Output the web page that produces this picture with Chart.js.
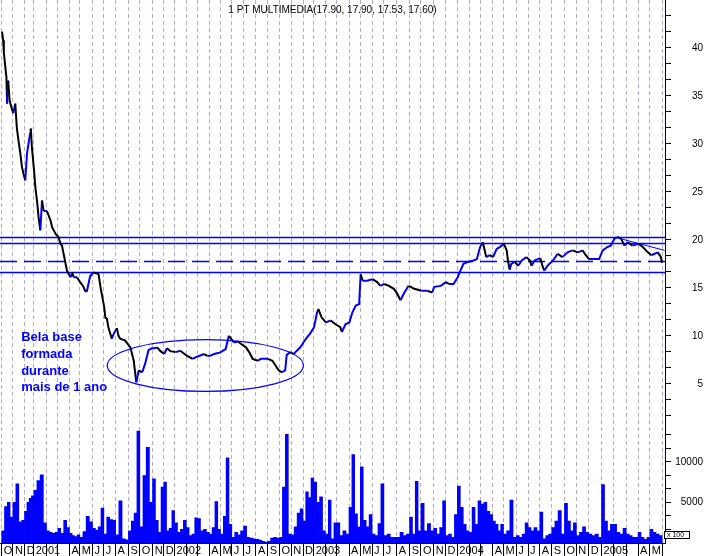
<!DOCTYPE html>
<html>
<head>
<meta charset="utf-8">
<script src="https://cdn.jsdelivr.net/npm/chart.js@4.4.0/dist/chart.umd.min.js"></script>
<style>
  html, body { margin: 0; padding: 0; background: #fff; }
  canvas { display: block; }
</style>
</head>
<body>
<canvas id="chart" width="707" height="556"></canvas>
<script>
const title = '1 PT MULTIMEDIA(17.90, 17.90, 17.53, 17.60)';

// one entry per month, Oct 2000 .. Jun 2005
const monthLabels = [
  'O', 'N', 'D',
  '2001', '', '', 'A', 'M', 'J', 'J', 'A', 'S', 'O', 'N', 'D',
  '2002', '', '', 'A', 'M', 'J', 'J', 'A', 'S', 'O', 'N', 'D',
  '2003', '', '', 'A', 'M', 'J', 'J', 'A', 'S', 'O', 'N', 'D',
  '2004', '', '', 'A', 'M', 'J', 'J', 'A', 'S', 'O', 'N', 'D',
  '2005', '', '', 'A', 'M', ''
];
// trading sessions in each month (the axis runs by session, not calendar day)
const tradingDays = [
  20, 21, 16,
  23, 20, 21, 18, 23, 20, 21, 23, 20, 23, 20, 19,
  21, 20, 21, 20, 20, 21, 22, 21, 21, 21, 21, 19,
  21, 20, 22, 20, 21, 21, 23, 23, 20, 23, 21, 21,
  21, 21, 21, 19, 23, 21, 21, 21, 23, 21, 22, 23,
  21, 23, 21, 21, 22, 22
];

const priceDates = [
  '2000-10-02', '2000-10-05', '2000-10-07', '2000-10-10', '2000-10-14', '2000-10-16', '2000-10-19', '2000-10-23', '2000-10-28',
  '2000-11-02', '2000-11-07', '2000-11-11', '2000-11-15', '2000-11-20', '2000-11-24', '2000-11-28',
  '2000-12-03', '2000-12-09', '2000-12-14', '2000-12-20', '2000-12-22', '2000-12-26',
  '2001-01-02', '2001-01-05', '2001-01-09', '2001-01-13', '2001-01-17', '2001-01-21', '2001-01-25',
  '2001-02-02', '2001-02-11', '2001-02-15', '2001-02-24',
  '2001-03-03', '2001-03-08', '2001-03-12', '2001-03-16', '2001-03-21', '2001-03-25', '2001-03-29',
  '2001-04-04', '2001-04-09', '2001-04-13', '2001-04-23',
  '2001-05-02', '2001-05-09', '2001-05-14', '2001-05-18', '2001-05-26',
  '2001-06-03', '2001-06-13', '2001-06-17', '2001-06-22',
  '2001-07-02', '2001-07-05', '2001-07-09', '2001-07-13', '2001-07-22', '2001-07-27',
  '2001-08-04', '2001-08-08', '2001-08-12', '2001-08-24',
  '2001-09-06', '2001-09-15', '2001-09-19', '2001-09-22', '2001-09-28',
  '2001-10-07', '2001-10-14', '2001-10-22', '2001-10-30',
  '2001-11-06', '2001-11-13', '2001-11-22',
  '2001-12-02', '2001-12-10', '2001-12-20',
  '2002-01-04', '2002-01-16', '2002-01-24',
  '2002-02-03', '2002-02-17', '2002-02-26',
  '2002-03-05', '2002-03-18', '2002-03-27',
  '2002-04-05', '2002-04-14', '2002-04-24',
  '2002-05-02', '2002-05-10', '2002-05-15', '2002-05-24',
  '2002-06-03', '2002-06-07', '2002-06-17', '2002-06-25',
  '2002-07-07', '2002-07-15', '2002-07-24',
  '2002-08-06', '2002-08-14', '2002-08-22',
  '2002-09-02', '2002-09-13', '2002-09-21', '2002-09-29',
  '2002-10-08', '2002-10-16', '2002-10-20', '2002-10-29',
  '2002-11-07', '2002-11-14', '2002-11-24',
  '2002-12-02', '2002-12-12', '2002-12-21',
  '2003-01-02', '2003-01-09', '2003-01-13', '2003-01-22',
  '2003-02-02', '2003-02-14', '2003-02-26',
  '2003-03-10', '2003-03-14', '2003-03-23',
  '2003-04-02', '2003-04-10', '2003-04-19', '2003-04-28',
  '2003-05-02', '2003-05-07', '2003-05-19',
  '2003-06-02', '2003-06-14', '2003-06-22',
  '2003-07-02', '2003-07-13', '2003-07-25',
  '2003-08-02', '2003-08-10', '2003-08-18', '2003-08-29',
  '2003-09-04', '2003-09-13', '2003-09-23',
  '2003-10-02', '2003-10-17', '2003-10-28',
  '2003-11-02', '2003-11-19',
  '2003-12-02', '2003-12-10', '2003-12-22',
  '2004-01-02', '2004-01-09', '2004-01-17', '2004-01-29',
  '2004-02-12', '2004-02-20', '2004-02-28',
  '2004-03-06', '2004-03-11', '2004-03-15', '2004-03-24',
  '2004-04-02', '2004-04-12', '2004-04-21',
  '2004-05-02', '2004-05-09', '2004-05-12', '2004-05-16', '2004-05-20', '2004-05-28',
  '2004-06-06', '2004-06-15', '2004-06-27',
  '2004-07-06', '2004-07-10', '2004-07-18',
  '2004-08-02', '2004-08-09', '2004-08-13', '2004-08-21',
  '2004-09-04', '2004-09-15', '2004-09-26',
  '2004-10-09', '2004-10-22',
  '2004-11-05', '2004-11-16', '2004-11-24',
  '2004-12-02', '2004-12-14', '2004-12-26',
  '2005-01-04', '2005-01-16', '2005-01-25',
  '2005-02-03', '2005-02-10', '2005-02-18', '2005-02-25',
  '2005-03-05', '2005-03-17',
  '2005-04-02', '2005-04-13', '2005-04-26',
  '2005-05-05', '2005-05-13', '2005-05-21', '2005-05-29', '2005-05-31'
];
const priceClose = [
  41.7, 40.8, 39.5, 38.4, 37.0, 34.2, 36.6, 34.5, 33.8,
  33.2, 34.2, 31.7, 30.4, 29.0, 27.6, 26.9,
  26.2, 29.0, 30.0, 31.1, 31.6, 29.6,
  27.2, 25.5, 24.1, 22.3, 21.0, 24.1, 23.0,
  23.0, 22.0, 21.3, 20.6,
  20.3, 19.6, 19.4, 18.6, 17.6, 16.8, 16.5,
  16.1, 16.6, 16.1, 16.1,
  15.6, 15.2, 14.7, 14.6, 16.2,
  16.6, 16.5, 16.4, 15.1,
  13.0, 11.9, 11.8, 10.9, 9.7, 10.2,
  10.8, 10.0, 9.7, 9.5,
  8.8, 7.4, 6.05, 5.15, 6.4,
  6.2, 7.1, 8.5, 8.7,
  8.7, 8.8, 8.4,
  8.1, 8.7, 8.4,
  8.3, 8.45, 8.2,
  7.9, 7.6, 7.8,
  7.9, 8.1, 7.9,
  7.95, 8.1, 8.2,
  8.3, 8.5, 8.6, 10.0,
  9.5, 9.3, 9.4, 9.15,
  8.8, 8.3, 7.6,
  7.4, 7.6, 7.6,
  7.6, 7.4, 6.9, 6.4,
  6.2, 6.4, 8.0, 8.3,
  8.1, 8.4, 8.8,
  9.3, 9.8, 10.2,
  10.9, 12.3, 12.8, 11.9,
  11.4, 11.6, 11.2,
  10.9, 10.4, 11.2,
  11.4, 12.45, 13.15, 13.3,
  16.4, 15.75, 15.75,
  15.9, 15.6, 15.2,
  15.4, 15.2, 14.9,
  14.4, 13.7, 14.4, 15.2,
  15.1, 14.9, 14.8,
  14.7, 14.7, 14.5,
  15.1, 15.2,
  15.6, 15.4, 15.4,
  16.1, 16.8, 17.5, 17.7,
  17.85, 18.0, 19.25,
  19.75, 18.9, 18.2, 18.4,
  18.2, 19.05, 19.25,
  19.6, 18.9, 17.85, 16.9, 17.5, 17.7,
  17.3, 17.85, 18.2,
  17.85, 17.3, 17.85,
  18.1, 17.15, 16.8, 17.3,
  17.85, 18.55, 18.2,
  18.7, 18.9,
  18.7, 18.9, 18.4,
  18.0, 18.0, 18.0,
  18.9, 19.25, 19.4,
  20.1, 20.3, 20.1, 19.4,
  19.75, 19.4,
  19.6, 19.25, 18.7,
  18.4, 18.55, 18.7, 18.2, 17.6
];

// volume in hundreds of shares, four weekly readings per month (Oct 2000 .. May 2005)
const volumeByMonth = [
  [1500, 4500, 5000, 3200], [5000, 7300, 2600, 2800], [3900, 5000, 5500, 5800],
  [6500, 7700, 8400, 2500], [1500, 1300, 1200, 1300], [1800, 1200, 2800, 1900],
  [1200, 900, 800, 1000], [700, 1400, 3300, 2600], [1800, 1600, 2000, 4300],
  [1100, 3200, 2900, 2800], [1000, 5200, 500, 400], [1500, 2700, 3700, 13800],
  [2000, 8300, 11800, 5000], [7900, 2800, 1300, 6900], [7500, 1500, 1800, 4000],
  [2500, 1300, 1700, 2800], [1900, 900, 1100, 3100], [3000, 1500, 1700, 1300],
  [1100, 1900, 5100, 1700], [1100, 3300, 10500, 2300], [700, 1300, 1000, 1500],
  [2100, 700, 600, 500], [450, 350, 200, 100], [200, 600, 700, 600],
  [700, 6900, 13400, 1100], [1000, 2000, 3700, 4200], [2700, 6300, 5600, 8000],
  [7500, 5000, 5700, 1500], [1100, 5300, 500, 2500], [2500, 900, 1500, 1100],
  [4400, 10900, 3600, 2000], [9400, 2800, 2000, 3500], [1100, 900, 2400, 7300],
  [900, 1100, 700, 700], [700, 1300, 900, 1100], [3200, 1100, 7600, 1500],
  [4900, 1500, 2400, 1500], [1800, 1100, 1900, 5200], [900, 1100, 700, 3500],
  [7000, 4400, 2300, 1500], [1300, 4400, 2300, 5200], [4800, 5000, 3900, 3500],
  [2700, 2300, 1500, 2300], [1100, 1500, 5300, 700], [900, 700, 1100, 2500],
  [1900, 1500, 1900, 1500], [3800, 500, 900, 1100], [1900, 2700, 4000, 1100],
  [4900, 2700, 1500, 2500], [900, 1300, 2000, 1300], [1100, 900, 1100, 700],
  [7200, 2700, 1500, 2300], [2300, 1300, 1100, 1800], [1100, 900, 700, 700],
  [1300, 700, 450, 700], [1700, 1300, 1100, 900]
];

// drawn-in analysis
const resistance = [20.28, 19.70];
const support = 16.70;
const pivot = 17.75;
const trendLine = [['2005-02-04', 20.28], ['2005-06-07', 18.9]];
const baseZone = { from: '2001-07-10', to: '2002-12-02', low: 4.2, high: 9.6 };
const note = ['Bela base', 'formada', 'durante', 'mais de 1 ano'];
const noteAt = ['2000-11-22', 9.8];

const BLUE = '#0000ff';
const axisFamily = "'Liberation Sans Narrow', 'Liberation Sans', Arial, sans-serif";

const monthStart = [];
tradingDays.reduce((acc, d) => { monthStart.push(acc); return acc + d; }, 0);

// date -> session number on the x axis
function session(dateStr) {
    const [y, m, d] = dateStr.split('-').map(Number);
    const i = (y - 2000) * 12 + (m - 1) - 9;
    const dim = new Date(y, m, 0).getDate();
    return monthStart[i] + (d - 1) / dim * tradingDays[i];
}

const pricePoints = priceDates.map((d, i) => ({ x: session(d), y: priceClose[i] }));
const volumePoints = [];
volumeByMonth.forEach((weeks, i) => {
    weeks.forEach((v, k) => {
        volumePoints.push({ x: monthStart[i] + (k + 0.5) / weeks.length * tradingDays[i], y: v });
    });
});

// right-aligned tick labels need a padding that depends on the label width
const measure = document.createElement('canvas').getContext('2d');
measure.font = '10px ' + axisFamily;
const labelRight = 38;
const padFor = txt => labelRight - 6 - measure.measureText(txt).width;

// keep Chart.js from reserving room for half-labels at the axis ends
const noEdgePadding = s => {
    s.paddingTop = 0; s.paddingBottom = 0; s.paddingLeft = 0; s.paddingRight = 0;
};

const analysis = {
    id: 'analysis',
    beforeDatasetsDraw(chart) {
        const { ctx, chartArea: a, scales: { price } } = chart;
        ctx.save();
        ctx.beginPath();
        ctx.rect(a.left, a.top, a.right - a.left, a.bottom - a.top);
        ctx.clip();
        ctx.strokeStyle = BLUE;
        ctx.lineWidth = 1.5;
        resistance.concat([support]).forEach(v => {
            const y = Math.round(price.getPixelForValue(v)) + 0.5;
            ctx.beginPath(); ctx.moveTo(a.left, y); ctx.lineTo(a.right, y); ctx.stroke();
        });
        const py = Math.round(price.getPixelForValue(pivot)) + 0.5;
        ctx.setLineDash([17, 7]);
        ctx.beginPath(); ctx.moveTo(a.left, py); ctx.lineTo(a.right, py); ctx.stroke();
        ctx.setLineDash([]);
        ctx.restore();
    },
    afterDatasetsDraw(chart) {
        const { ctx, chartArea: a, scales: { x, price } } = chart;
        ctx.save();
        ctx.beginPath();
        ctx.rect(a.left, a.top, a.right - a.left, a.bottom - a.top);
        ctx.clip();
        ctx.strokeStyle = BLUE;
        ctx.lineWidth = 1;
        ctx.beginPath();
        ctx.moveTo(x.getPixelForValue(session(trendLine[0][0])), price.getPixelForValue(trendLine[0][1]));
        ctx.lineTo(x.getPixelForValue(session(trendLine[1][0])), price.getPixelForValue(trendLine[1][1]));
        ctx.stroke();

        const x1 = x.getPixelForValue(session(baseZone.from));
        const x2 = x.getPixelForValue(session(baseZone.to));
        const y1 = price.getPixelForValue(baseZone.high);
        const y2 = price.getPixelForValue(baseZone.low);
        ctx.lineWidth = 1.2;
        ctx.beginPath();
        ctx.ellipse((x1 + x2) / 2, (y1 + y2) / 2, (x2 - x1) / 2, (y2 - y1) / 2, 0, 0, Math.PI * 2);
        ctx.stroke();

        ctx.fillStyle = BLUE;
        ctx.font = "bold 13px 'Liberation Sans', Arial, sans-serif";
        ctx.textAlign = 'left';
        ctx.textBaseline = 'middle';
        const nx = x.getPixelForValue(session(noteAt[0]));
        const ny = price.getPixelForValue(noteAt[1]);
        note.forEach((line, i) => ctx.fillText(line, nx, ny + i * 16.7));
        ctx.restore();
    },
    afterDraw(chart) {
        const { ctx, chartArea: a } = chart;
        ctx.save();
        ctx.fillStyle = '#000';
        ctx.font = "10px 'Liberation Sans', Arial, sans-serif";
        ctx.textAlign = 'center';
        ctx.textBaseline = 'middle';
        ctx.fillText(title, (a.left + a.right) / 2, 10);

        // "x 100" volume unit box
        ctx.strokeStyle = '#000';
        ctx.lineWidth = 1;
        ctx.fillStyle = '#fff';
        ctx.fillRect(a.right - 1, a.bottom - 12, 25, 7);
        ctx.strokeRect(a.right - 0.5, a.bottom - 11.5, 25, 7);
        ctx.fillStyle = '#000';
        ctx.font = "7px 'Liberation Sans', Arial, sans-serif";
        ctx.textAlign = 'left';
        ctx.fillText('x 100', a.right + 2, a.bottom - 8);
        ctx.restore();
    }
};

const multipleOf = (v, step) => Math.abs(v / step - Math.round(v / step)) < 1e-6;

function rightAxis(opts) {
    return {
        type: 'linear',
        position: 'right',
        stack: 'panels',
        stackWeight: opts.weight,
        min: opts.min,
        max: opts.max,
        offset: false,
        grid: { drawOnChartArea: false, drawTicks: true, tickLength: 6, color: '#000' },
        border: { color: '#000', width: 1 },
        afterBuildTicks: s => { s.ticks = opts.ticks.map(v => ({ value: v })); },
        afterFit: s => { s.width = labelRight; noEdgePadding(s); },
        ticks: {
            autoSkip: false,
            crossAlign: 'far',
            padding: padFor(opts.widest),
            color: '#000',
            font: { family: axisFamily, size: 10 },
            callback: v => multipleOf(v, opts.labelStep) ? Math.round(v) : ''
        }
    };
}

const priceTicks = [];
for (let k = 1; k <= 26; k++) priceTicks.push(k * 5 / 3);
const volumeTicks = [];
for (let k = 1; k <= 8; k++) volumeTicks.push(k * 5000 / 3);

new Chart(document.getElementById('chart'), {
    type: 'bar',
    data: {
        datasets: [{
            type: 'line',
            data: pricePoints,
            yAxisID: 'price',
            borderWidth: 2,
            pointRadius: 0,
            tension: 0,
            borderColor: BLUE,
            segment: {
                borderColor: c => c.p1.parsed.y < c.p0.parsed.y ? '#000' : BLUE
            },
            order: 0
        }, {
            type: 'bar',
            data: volumePoints,
            yAxisID: 'vol',
            backgroundColor: BLUE,
            borderWidth: 0,
            barThickness: 'flex',
            barPercentage: 1,
            categoryPercentage: 1,
            order: 1
        }]
    },
    options: {
        responsive: false,
        animation: false,
        layout: { padding: { top: 0, right: 4, bottom: 0, left: 0 } },
        plugins: { legend: { display: false }, tooltip: { enabled: false }, title: { display: false } },
        scales: {
            x: {
                type: 'linear',
                min: -3,
                max: monthStart[monthStart.length - 1] + 5,
                offset: false,
                grid: {
                    color: '#b4aec4',
                    offset: false,
                    drawTicks: true,
                    tickLength: 13,
                    tickColor: '#000',
                    tickWidth: 1,
                    tickBorderDash: []
                },
                border: { color: '#000', width: 1, dash: [4, 3] },
                afterBuildTicks: s => { s.ticks = monthStart.map(v => ({ value: v })); },
                afterFit: s => { s.height = 13; noEdgePadding(s); },
                ticks: {
                    autoSkip: false,
                    maxRotation: 0,
                    align: 'start',
                    labelOffset: 2,
                    padding: -12,
                    color: '#000',
                    font: { family: axisFamily, size: 11 },
                    callback: (v, i) => monthLabels[i]
                }
            },
            price: rightAxis({ min: 1.04, max: 45, weight: 421, ticks: priceTicks, labelStep: 5, widest: '40' }),
            vol: rightAxis({ min: 0, max: 14940, weight: 121, ticks: volumeTicks, labelStep: 5000, widest: '10000' })
        }
    },
    plugins: [analysis]
});
</script>
</body>
</html>
